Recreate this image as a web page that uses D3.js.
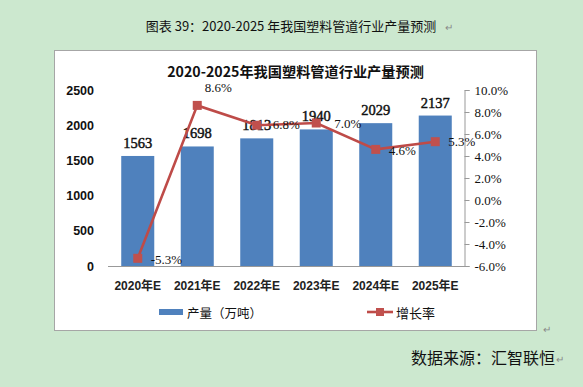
<!DOCTYPE html>
<html><head><meta charset="utf-8">
<script src="https://cdn.jsdelivr.net/npm/d3@7"></script>
<style>
html,body{margin:0;padding:0;background:#cce8cf;}
svg{display:block;}
</style></head>
<body>
<svg id="c" width="583" height="387"></svg>
<script>
const years = ["2020年E","2021年E","2022年E","2023年E","2024年E","2025年E"];
const output = [1563,1698,1813,1940,2029,2137];
const growth = [-5.3,8.6,6.8,7.0,4.6,5.3];
const leftTicks = [0,500,1000,1500,2000,2500];
const rightTicks = [-6,-4,-2,0,2,4,6,8,10];
const caption = "图表 39：2020-2025 年我国塑料管道行业产量预测";
const title = "2020-2025年我国塑料管道行业产量预测";
const legendBar = "产量（万吨）";
const legendLine = "增长率";
const source = "数据来源：汇智联恒";

const svg = d3.select("#c");
const cjk = "'Noto Sans CJK SC','Noto Sans',sans-serif";
const serif = "'Liberation Serif','DejaVu Serif',serif";
const sans = "'Liberation Sans','Noto Sans CJK SC',sans-serif";

// caption
svg.append("text").attr("x",291).attr("y",25).attr("text-anchor","middle")
  .attr("dominant-baseline","central").attr("font-family",cjk).attr("font-size",13).attr("fill","#111")
  .text(caption);
svg.append("text").attr("x",445).attr("y",26).attr("dominant-baseline","central")
  .attr("font-family",cjk).attr("font-size",10).attr("fill","#888").text("↵");

// chart box
svg.append("rect").attr("x",54.5).attr("y",50.5).attr("width",482).attr("height",280)
  .attr("fill","#fff").attr("stroke","#a6a6a6").attr("stroke-width",1);
svg.append("text").attr("x",543).attr("y",328).attr("dominant-baseline","central")
  .attr("font-family",cjk).attr("font-size",10).attr("fill","#888").text("↵");

// title
svg.append("text").attr("x",295.5).attr("y",71).attr("text-anchor","middle")
  .attr("dominant-baseline","central").attr("font-family",cjk).attr("font-weight","bold")
  .attr("font-size",14.2).attr("fill","#111").text(title);

const x = d3.scaleBand().domain(years).range([108,465]).paddingInner(0.445).paddingOuter(0.2225);
const yL = d3.scaleLinear().domain([0,2500]).range([266,90]);
const yR = d3.scaleLinear().domain([-6,10]).range([266,90]);

// left axis
const gL = svg.append("g").attr("transform","translate(108,0)")
  .call(d3.axisLeft(yL).tickValues(leftTicks).tickSize(0).tickPadding(14).tickFormat(d3.format("d")));
gL.select(".domain").remove();
gL.selectAll("text").attr("font-family",sans).attr("font-weight","bold").attr("font-size",12.5).attr("fill","#111");

// right axis
const gR = svg.append("g").attr("transform","translate(464.5,0)")
  .call(d3.axisRight(yR).tickValues(rightTicks).tickSize(5).tickPadding(5).tickFormat(d=>d.toFixed(1)+"%"));
gR.select(".domain").attr("stroke","#999");
gR.selectAll("line").attr("stroke","#999");
gR.selectAll("text").attr("font-family",serif).attr("font-size",13).attr("fill","#111");

// bars
svg.append("g").selectAll("rect").data(output).join("rect")
  .attr("x",(d,i)=>x(years[i])).attr("width",x.bandwidth())
  .attr("y",d=>yL(d)).attr("height",d=>yL(0)-yL(d)).attr("fill","#4f81bd");

// bottom axis
const gB = svg.append("g").attr("transform","translate(0,266.5)")
  .call(d3.axisBottom(x).tickSize(0).tickPadding(15));
gB.select(".domain").attr("stroke","#999").attr("d","M108,0H465");
gB.selectAll("text").attr("font-family",sans).attr("font-weight","bold").attr("font-size",12).attr("fill","#222");

// bar labels
svg.append("g").selectAll("text").data(output).join("text")
  .attr("x",(d,i)=>x(years[i])+x.bandwidth()/2).attr("y",d=>yL(d)-13)
  .attr("text-anchor","middle").attr("dominant-baseline","central")
  .attr("font-family",serif).attr("font-size",14.5).attr("fill","#111")
  .attr("stroke","#111").attr("stroke-width",0.45)
  .text(d=>d);

// line
const cx = (i)=>x(years[i])+x.bandwidth()/2;
const line = d3.line().x((d,i)=>cx(i)).y(d=>yR(d));
svg.append("path").datum(growth).attr("d",line).attr("fill","none")
  .attr("stroke","#be4b48").attr("stroke-width",2.6);
svg.append("g").selectAll("rect").data(growth).join("rect")
  .attr("x",(d,i)=>cx(i)-4.5).attr("y",d=>yR(d)-4.5).attr("width",9).attr("height",9)
  .attr("fill","#c0504d");

// growth labels
const dx = [13,21,16,18,13,13];
const dy = [1,-18,-1,0,1,0];
svg.append("g").selectAll("text").data(growth).join("text")
  .attr("x",(d,i)=>cx(i)+dx[i]).attr("y",(d,i)=>yR(d)+dy[i])
  .attr("text-anchor",(d,i)=>i===1?"middle":"start").attr("dominant-baseline","central")
  .attr("font-family",serif).attr("font-size",13).attr("fill","#111")
  .text(d=>d.toFixed(1)+"%");

// legend
svg.append("rect").attr("x",159).attr("y",309).attr("width",24).attr("height",6).attr("fill","#4f81bd");
svg.append("text").attr("x",187).attr("y",312).attr("dominant-baseline","central")
  .attr("font-family",cjk).attr("font-size",12.5).attr("fill","#111").text(legendBar);
svg.append("line").attr("x1",367).attr("x2",393).attr("y1",312).attr("y2",312)
  .attr("stroke","#be4b48").attr("stroke-width",2.6);
svg.append("rect").attr("x",376).attr("y",308).attr("width",8).attr("height",8).attr("fill","#c0504d");
svg.append("text").attr("x",396).attr("y",312).attr("dominant-baseline","central")
  .attr("font-family",cjk).attr("font-size",13).attr("fill","#111").text(legendLine);

// source
svg.append("text").attr("x",555).attr("y",357).attr("text-anchor","end").attr("dominant-baseline","central")
  .attr("font-family",cjk).attr("font-size",16).attr("fill","#111").text(source);
svg.append("text").attr("x",556).attr("y",358).attr("dominant-baseline","central")
  .attr("font-family",cjk).attr("font-size",10).attr("fill","#888").text("↵");
</script>
</body></html>
